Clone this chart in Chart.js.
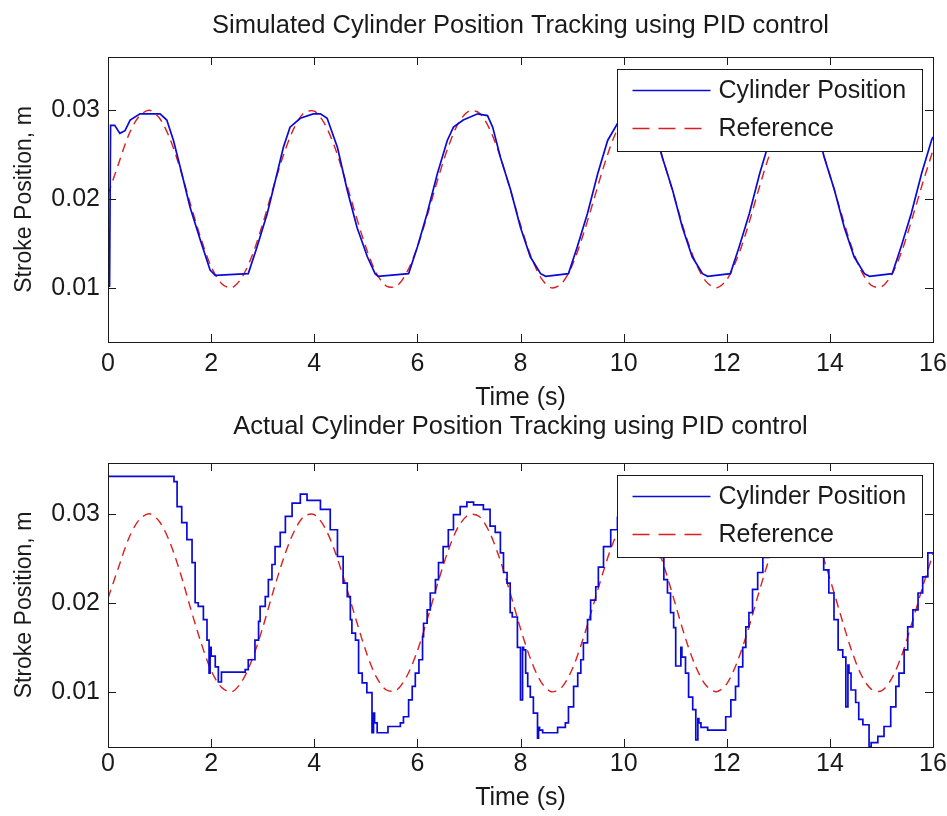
<!DOCTYPE html>
<html>
<head>
<meta charset="utf-8">
<script src="https://cdn.jsdelivr.net/npm/chart.js@4.4.1/dist/chart.umd.min.js"></script>
<style>
  html, body { margin: 0; padding: 0; background: #fff; }
  #wrap { position: relative; width: 947px; height: 816px; background: #fff; }
  canvas { position: absolute; left: 0; }
  #simChart { top: 0; }
  #actChart { top: 400px; }
</style>
</head>
<body>
<div id="wrap">
  <canvas id="simChart" width="947" height="420"></canvas>
  <canvas id="actChart" width="947" height="416"></canvas>
</div>
<script>
// reference signal (red dashed), every 0.2 s
const refTime = [0, 0.2, 0.4, 0.6, 0.8, 1.0, 1.2, 1.4, 1.6, 1.8, 2.0, 2.2, 2.4, 2.6, 2.8, 3.0, 3.2, 3.4, 3.6, 3.8,
  4.0, 4.2, 4.4, 4.6, 4.8, 5.0, 5.2, 5.4, 5.6, 5.8, 6.0, 6.2, 6.4, 6.6, 6.8, 7.0, 7.2, 7.4, 7.6, 7.8,
  8.0, 8.2, 8.4, 8.6, 8.8, 9.0, 9.2, 9.4, 9.6, 9.8, 10.0, 10.2, 10.4, 10.6, 10.8, 11.0, 11.2, 11.4, 11.6, 11.8,
  12.0, 12.2, 12.4, 12.6, 12.8, 13.0, 13.2, 13.4, 13.6, 13.8, 14.0, 14.2, 14.4, 14.6, 14.8, 15.0, 15.2, 15.4, 15.6, 15.8, 16.0];
const refPos = [0.0205, 0.0239, 0.0272, 0.0293, 0.0300, 0.0291, 0.0268, 0.0234, 0.0194, 0.0156,
  0.0124, 0.0105, 0.0100, 0.0112, 0.0137, 0.0172, 0.0212, 0.0249, 0.0279, 0.0297,
  0.0299, 0.0285, 0.0258, 0.0222, 0.0183, 0.0146, 0.0117, 0.0102, 0.0102, 0.0118,
  0.0146, 0.0183, 0.0223, 0.0259, 0.0286, 0.0299, 0.0297, 0.0279, 0.0249, 0.0211,
  0.0171, 0.0136, 0.0111, 0.0100, 0.0105, 0.0125, 0.0157, 0.0195, 0.0234, 0.0268,
  0.0291, 0.0300, 0.0293, 0.0271, 0.0238, 0.0199, 0.0160, 0.0128, 0.0107, 0.0100,
  0.0109, 0.0133, 0.0167, 0.0207, 0.0245, 0.0276, 0.0295, 0.0300, 0.0288, 0.0263,
  0.0227, 0.0188, 0.0150, 0.0120, 0.0103, 0.0101, 0.0115, 0.0142, 0.0179, 0.0218, 0.0255];

// simulated cylinder position (top plot)
const simTime = [0.03, 0.05, 0.13, 0.23, 0.33, 0.43, 0.62, 1.01, 1.14, 1.27,
  1.43, 1.59, 1.79, 1.98, 2.08, 2.72, 2.89, 3.09, 3.28, 3.40,
  3.53, 3.73, 3.98, 4.12, 4.25, 4.45, 4.64, 4.83, 5.03, 5.18,
  5.24, 5.83, 6.00, 6.19, 6.39, 6.58, 6.70, 6.89, 7.17, 7.36,
  7.46, 7.61, 7.81, 8.00, 8.19, 8.39, 8.49, 8.93, 9.10, 9.30,
  9.50, 9.69, 9.88, 10.05, 10.30, 10.50, 10.60, 10.75, 10.95, 11.14,
  11.33, 11.53, 11.63, 12.07, 12.24, 12.44, 12.64, 12.83, 13.00, 13.20,
  13.45, 13.60, 13.74, 13.89, 14.09, 14.28, 14.47, 14.67, 14.77, 15.21,
  15.38, 15.58, 15.78, 15.97, 16.00];
const simPos = [0.0101, 0.0283, 0.0283, 0.0274, 0.0277, 0.0289, 0.0296, 0.0296, 0.0289, 0.0266,
  0.0229, 0.0191, 0.0154, 0.0120, 0.0114, 0.0116, 0.0146, 0.0184, 0.0229, 0.0258,
  0.0281, 0.0291, 0.0296, 0.0296, 0.0291, 0.0258, 0.0210, 0.0168, 0.0135, 0.0116,
  0.0113, 0.0116, 0.0146, 0.0184, 0.0229, 0.0266, 0.0281, 0.0289, 0.0296, 0.0294,
  0.0281, 0.0247, 0.0210, 0.0168, 0.0135, 0.0116, 0.0113, 0.0116, 0.0146, 0.0184,
  0.0229, 0.0266, 0.0285, 0.0293, 0.0296, 0.0294, 0.0281, 0.0247, 0.0210, 0.0168,
  0.0135, 0.0116, 0.0113, 0.0116, 0.0146, 0.0184, 0.0229, 0.0266, 0.0285, 0.0293,
  0.0296, 0.0294, 0.0281, 0.0247, 0.0210, 0.0168, 0.0135, 0.0116, 0.0113, 0.0116,
  0.0146, 0.0184, 0.0229, 0.0266, 0.0270];

// actual cylinder position (bottom plot), corners of the staircase
const actTime = [0, 1.28, 1.34, 1.43, 1.53, 1.63, 1.69, 1.75, 1.85, 1.92,
  1.96, 1.98, 2.00, 2.08, 2.14, 2.20, 2.66, 2.72, 2.85, 2.92,
  2.95, 3.05, 3.11, 3.18, 3.24, 3.34, 3.44, 3.57, 3.73, 3.86,
  4.12, 4.31, 4.45, 4.56, 4.64, 4.70, 4.73, 4.80, 4.86, 4.93,
  5.02, 5.12, 5.15, 5.17, 5.22, 5.43, 5.67, 5.73, 5.83, 5.90,
  5.96, 6.03, 6.10, 6.12, 6.19, 6.25, 6.35, 6.41, 6.50, 6.60,
  6.70, 6.83, 6.96, 7.09, 7.28, 7.41, 7.51, 7.61, 7.67, 7.74,
  7.80, 7.84, 7.94, 8.00, 8.04, 8.06, 8.10, 8.14, 8.19, 8.25,
  8.33, 8.35, 8.37, 8.43, 8.72, 8.87, 8.93, 9.03, 9.11, 9.17,
  9.22, 9.30, 9.36, 9.46, 9.51, 9.61, 9.75, 9.88, 10.00, 10.15,
  10.40, 10.55, 10.70, 10.78, 10.85, 10.91, 10.97, 11.01, 11.11, 11.13,
  11.20, 11.26, 11.34, 11.40, 11.44, 11.46, 11.50, 11.63, 11.98, 12.08,
  12.17, 12.23, 12.31, 12.37, 12.43, 12.50, 12.60, 12.70, 12.80, 12.95,
  13.10, 13.35, 13.60, 13.75, 13.88, 13.98, 14.08, 14.16, 14.25, 14.31,
  14.35, 14.37, 14.41, 14.50, 14.56, 14.64, 14.76, 14.80, 14.93, 15.05,
  15.18, 15.28, 15.34, 15.44, 15.51, 15.61, 15.71, 15.80, 15.90, 16.00];
const actPos = [0.0349, 0.0342, 0.0336, 0.0308, 0.0290, 0.0271, 0.0245, 0.0200, 0.0196, 0.0181,
  0.0158, 0.0121, 0.0150, 0.0140, 0.0128, 0.0111, 0.0122, 0.0125, 0.0136, 0.0158,
  0.0179, 0.0196, 0.0207, 0.0226, 0.0243, 0.0263, 0.0279, 0.0297, 0.0312, 0.0322,
  0.0315, 0.0305, 0.0282, 0.0252, 0.0222, 0.0207, 0.0181, 0.0166, 0.0158, 0.0121,
  0.0110, 0.0099, 0.0054, 0.0076, 0.0065, 0.0054, 0.0061, 0.0065, 0.0072, 0.0091,
  0.0106, 0.0121, 0.0136, 0.0162, 0.0177, 0.0192, 0.0211, 0.0226, 0.0245, 0.0263,
  0.0282, 0.0299, 0.0308, 0.0313, 0.0310, 0.0305, 0.0286, 0.0279, 0.0256, 0.0234,
  0.0222, 0.0189, 0.0184, 0.0150, 0.0091, 0.0150, 0.0147, 0.0121, 0.0106, 0.0094,
  0.0076, 0.0048, 0.0060, 0.0057, 0.0054, 0.0060, 0.0065, 0.0083, 0.0106, 0.0121,
  0.0136, 0.0155, 0.0181, 0.0203, 0.0218, 0.0240, 0.0263, 0.0282, 0.0296, 0.0303,
  0.0300, 0.0285, 0.0262, 0.0251, 0.0226, 0.0211, 0.0189, 0.0172, 0.0129, 0.0150,
  0.0139, 0.0121, 0.0094, 0.0080, 0.0046, 0.0070, 0.0065, 0.0060, 0.0057, 0.0072,
  0.0091, 0.0106, 0.0128, 0.0150, 0.0173, 0.0189, 0.0215, 0.0234, 0.0251, 0.0275,
  0.0292, 0.0300, 0.0290, 0.0270, 0.0254, 0.0237, 0.0211, 0.0181, 0.0147, 0.0139,
  0.0083, 0.0130, 0.0121, 0.0102, 0.0088, 0.0069, 0.0063, 0.0038, 0.0043, 0.0050,
  0.0061, 0.0083, 0.0106, 0.0121, 0.0147, 0.0173, 0.0192, 0.0211, 0.0229, 0.0256];

const xTicks = [0, 2, 4, 6, 8, 10, 12, 14, 16];
const yTicks = [0.01, 0.02, 0.03];
const seriesNames = ["Cylinder Position", "Reference"];

const FONT = "'Liberation Sans', Arial, Helvetica, sans-serif";
const INK = "#1a1a1a";
const BLUE = "#0a0ad8";
const RED = "#dc1e1e";

function pts(xs, ys) {
  const n = Math.min(xs.length, ys.length);
  const out = [];
  for (let i = 0; i < n; i++) out.push({ x: xs[i], y: ys[i] });
  return out;
}

// matlab style box with inward ticks on all four sides
const framePlugin = {
  id: "frame",
  afterDraw(chart) {
    const { ctx, chartArea: a, scales } = chart;
    ctx.save();
    ctx.strokeStyle = INK;
    ctx.lineWidth = 1;
    ctx.beginPath();
    xTicks.forEach((v) => {
      const px = Math.round(scales.x.getPixelForValue(v)) + 0.5;
      ctx.moveTo(px, a.bottom); ctx.lineTo(px, a.bottom - 8);
      ctx.moveTo(px, a.top); ctx.lineTo(px, a.top + 8);
    });
    yTicks.forEach((v) => {
      const py = Math.round(scales.y.getPixelForValue(v)) + 0.5;
      ctx.moveTo(a.left, py); ctx.lineTo(a.left + 8, py);
      ctx.moveTo(a.right, py); ctx.lineTo(a.right - 8, py);
    });
    ctx.stroke();
    ctx.strokeRect(Math.round(a.left) + 0.5, Math.round(a.top) + 0.5,
      Math.round(a.right - a.left), Math.round(a.bottom - a.top));
    // title centred over the axes, as matlab does
    const title = chart.options.plugins.axesTitle;
    ctx.fillStyle = INK;
    ctx.font = "25.5px " + FONT;
    ctx.textAlign = "center";
    ctx.textBaseline = "alphabetic";
    ctx.fillText(title.text, (a.left + a.right) / 2, title.baseline);
    ctx.restore();
  },
};

// legend box inside the axes, top right
const boxLegendPlugin = {
  id: "boxLegend",
  afterDatasetsDraw(chart) {
    const { ctx, chartArea: a } = chart;
    const w = 305, h = 82;
    const x0 = Math.round(a.right - 11 - w) + 0.5;
    const y0 = Math.round(a.top + 12) + 0.5;
    ctx.save();
    ctx.fillStyle = "#fff";
    ctx.fillRect(x0, y0, w, h);
    ctx.strokeStyle = INK;
    ctx.lineWidth = 1;
    ctx.strokeRect(x0, y0, w, h);
    const rows = [y0 + 21, y0 + 59];
    chart.data.datasets.forEach((ds, i) => {
      ctx.strokeStyle = ds.borderColor;
      ctx.lineWidth = ds.borderWidth;
      ctx.setLineDash(ds.borderDash ? [17, 9] : []);
      ctx.beginPath();
      ctx.moveTo(x0 + 15, rows[i]);
      ctx.lineTo(x0 + 93, rows[i]);
      ctx.stroke();
      ctx.setLineDash([]);
      ctx.fillStyle = INK;
      ctx.font = "25px " + FONT;
      ctx.textBaseline = "middle";
      ctx.textAlign = "left";
      ctx.fillText(ds.label, x0 + 101, rows[i] + 1);
    });
    ctx.restore();
  },
};

function makeChart(id, o) {
  const font = { family: FONT, size: 25 };
  return new Chart(document.getElementById(id), {
    type: "line",
    data: {
      datasets: [
        {
          label: seriesNames[0],
          data: pts(o.time, o.pos),
          borderColor: BLUE,
          borderWidth: 1.7,
          pointRadius: 0,
          stepped: o.stepped,
          tension: 0,
        },
        {
          label: seriesNames[1],
          data: pts(refTime, refPos),
          borderColor: RED,
          borderWidth: 1.4,
          borderDash: [9, 6],
          pointRadius: 0,
          tension: 0.3,
        },
      ],
    },
    options: {
      responsive: false,
      animation: false,
      devicePixelRatio: 1,
      layout: { padding: { left: 0, right: 14, top: o.padTop, bottom: o.padBottom } },
      plugins: {
        legend: { display: false },
        tooltip: { enabled: false },
        title: { display: false },
        axesTitle: { text: o.title, baseline: o.titleBaseline },
      },
      scales: {
        x: {
          type: "linear",
          min: 0,
          max: 16,
          grid: { display: false, drawTicks: false },
          border: { display: false },
          afterBuildTicks: (s) => { s.ticks = xTicks.map((v) => ({ value: v })); },
          afterFit: (s) => { s.height = o.xHeight; s.paddingLeft = 0; s.paddingRight = 0; },
          ticks: { color: INK, font, padding: o.xTickPad, maxRotation: 0, autoSkip: false,
            callback: (v) => String(v) },
          title: { display: true, text: "Time (s)", color: INK, font, padding: { top: 0, bottom: o.xTitlePad } },
        },
        y: {
          type: "linear",
          min: o.ymin,
          max: o.ymax,
          grid: { display: false, drawTicks: false },
          border: { display: false },
          afterBuildTicks: (s) => { s.ticks = yTicks.map((v) => ({ value: v })); },
          afterFit: (s) => { s.width = 108; s.paddingTop = 0; s.paddingBottom = 0; },
          ticks: { color: INK, font, padding: 8, callback: (v) => v.toFixed(2) },
          title: { display: true, text: "Stroke Position, m", color: INK,
            font: { family: FONT, size: 23 }, padding: { top: 11, bottom: 0 } },
        },
      },
    },
    plugins: [boxLegendPlugin, framePlugin],
  });
}

makeChart("simChart", {
  title: "Simulated Cylinder Position Tracking using PID control",
  titleBaseline: 33,
  time: simTime, pos: simPos, stepped: false,
  ymin: 0.0039, ymax: 0.0360,
  padTop: 57, padBottom: 6, xHeight: 72, xTickPad: 7, xTitlePad: 1,
});

makeChart("actChart", {
  title: "Actual Cylinder Position Tracking using PID control",
  titleBaseline: 34,
  time: actTime, pos: actPos, stepped: "after",
  ymin: 0.0038, ymax: 0.0357,
  padTop: 63, padBottom: 3, xHeight: 66, xTickPad: 2.3, xTitlePad: 0,
});
</script>
</body>
</html>
